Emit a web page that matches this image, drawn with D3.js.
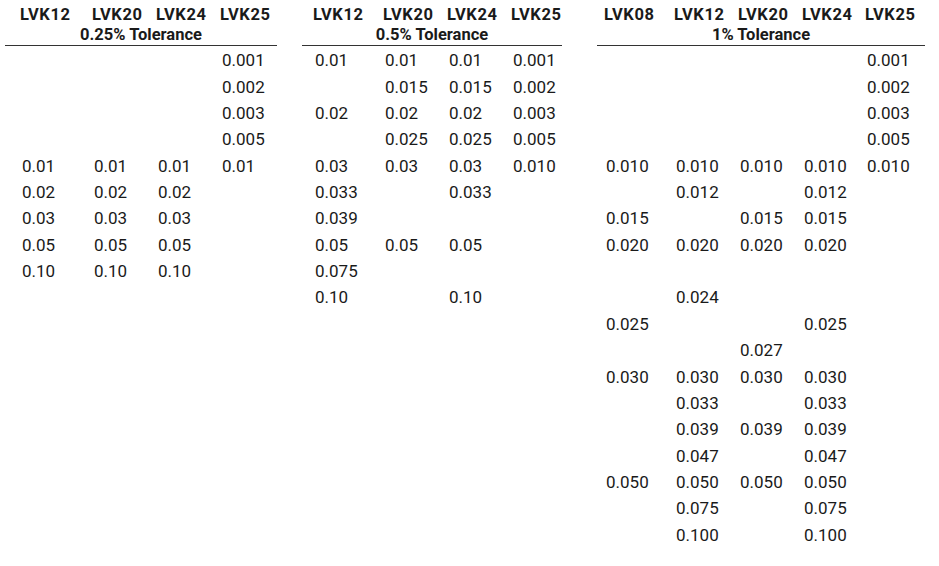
<!DOCTYPE html>
<html><head><meta charset="utf-8">
<script src="https://cdn.jsdelivr.net/npm/d3@7"></script>
<style>body{margin:0;background:#fff}text{font-family:Roboto,"Liberation Sans Narrow",sans-serif;fill:#1a1a1a}</style>
</head><body><svg id="c" width="939" height="566"></svg>
<script>
const N = null;
const groups = [
  {title:"0.25% Tolerance", cols:["LVK12","LVK20","LVK24","LVK25"]},
  {title:"0.5% Tolerance", cols:["LVK12","LVK20","LVK24","LVK25"]},
  {title:"1% Tolerance", cols:["LVK08","LVK12","LVK20","LVK24","LVK25"]}
];
const g1LVK12 = [N,N,N,N,"0.01","0.02","0.03","0.05","0.10"];
const g1LVK20 = [N,N,N,N,"0.01","0.02","0.03","0.05","0.10"];
const g1LVK24 = [N,N,N,N,"0.01","0.02","0.03","0.05","0.10"];
const g1LVK25 = ["0.001","0.002","0.003","0.005","0.01"];
const g2LVK12 = ["0.01",N,"0.02",N,"0.03","0.033","0.039","0.05","0.075","0.10"];
const g2LVK20 = ["0.01","0.015","0.02","0.025","0.03",N,N,"0.05"];
const g2LVK24 = ["0.01","0.015","0.02","0.025","0.03","0.033",N,"0.05",N,"0.10"];
const g2LVK25 = ["0.001","0.002","0.003","0.005","0.010"];
const g3LVK08 = [N,N,N,N,"0.010",N,"0.015","0.020",N,N,"0.025",N,"0.030",N,N,N,"0.050"];
const g3LVK12 = [N,N,N,N,"0.010","0.012",N,"0.020",N,"0.024",N,N,"0.030","0.033","0.039","0.047","0.050","0.075","0.100"];
const g3LVK20 = [N,N,N,N,"0.010",N,"0.015","0.020",N,N,N,"0.027","0.030",N,"0.039",N,"0.050"];
const g3LVK24 = [N,N,N,N,"0.010","0.012","0.015","0.020",N,N,"0.025",N,"0.030","0.033","0.039","0.047","0.050","0.075","0.100"];
const g3LVK25 = ["0.001","0.002","0.003","0.005","0.010"];
const colData = [[g1LVK12,g1LVK20,g1LVK24,g1LVK25],[g2LVK12,g2LVK20,g2LVK24,g2LVK25],[g3LVK08,g3LVK12,g3LVK20,g3LVK24,g3LVK25]];

const svg = d3.select("#c");
const nRows = 19;
const y = d3.scaleBand().domain(d3.range(nRows)).range([47, 548]);
const layout = [
  {x0:5,x1:277,cols:[22,94,158,222]},
  {x0:302,x1:562,cols:[315,385,449,513]},
  {x0:597,x1:925,cols:[606,676,740,804,867]}
];
groups.forEach((g,gi)=>{
  const L = layout[gi];
  const G = svg.append("g");
  G.selectAll("text.h").data(g.cols).join("text")
    .attr("x",(d,i)=>L.cols[i]+23).attr("y",20).attr("text-anchor","middle")
    .attr("font-weight","bold").attr("font-size",16.5).attr("textLength",50).text(d=>d);
  G.append("text").attr("x",(L.x0+L.x1)/2).attr("y",40).attr("text-anchor","middle")
    .attr("font-weight","bold").attr("font-size",16.5).text(g.title);
  G.append("line").attr("x1",L.x0).attr("x2",L.x1).attr("y1",45.5).attr("y2",45.5)
    .attr("stroke","#333").attr("stroke-width",1);
  colData[gi].forEach((arr,ci)=>{
    G.selectAll(null).data(arr.map((v,r)=>({v,r})).filter(d=>d.v)).join("text")
      .attr("x",L.cols[ci]).attr("y",d=>y(d.r)+y.bandwidth()/2).attr("dy","0.35em")
      .attr("font-size",17).text(d=>d.v);
  });
});
</script></body></html>
